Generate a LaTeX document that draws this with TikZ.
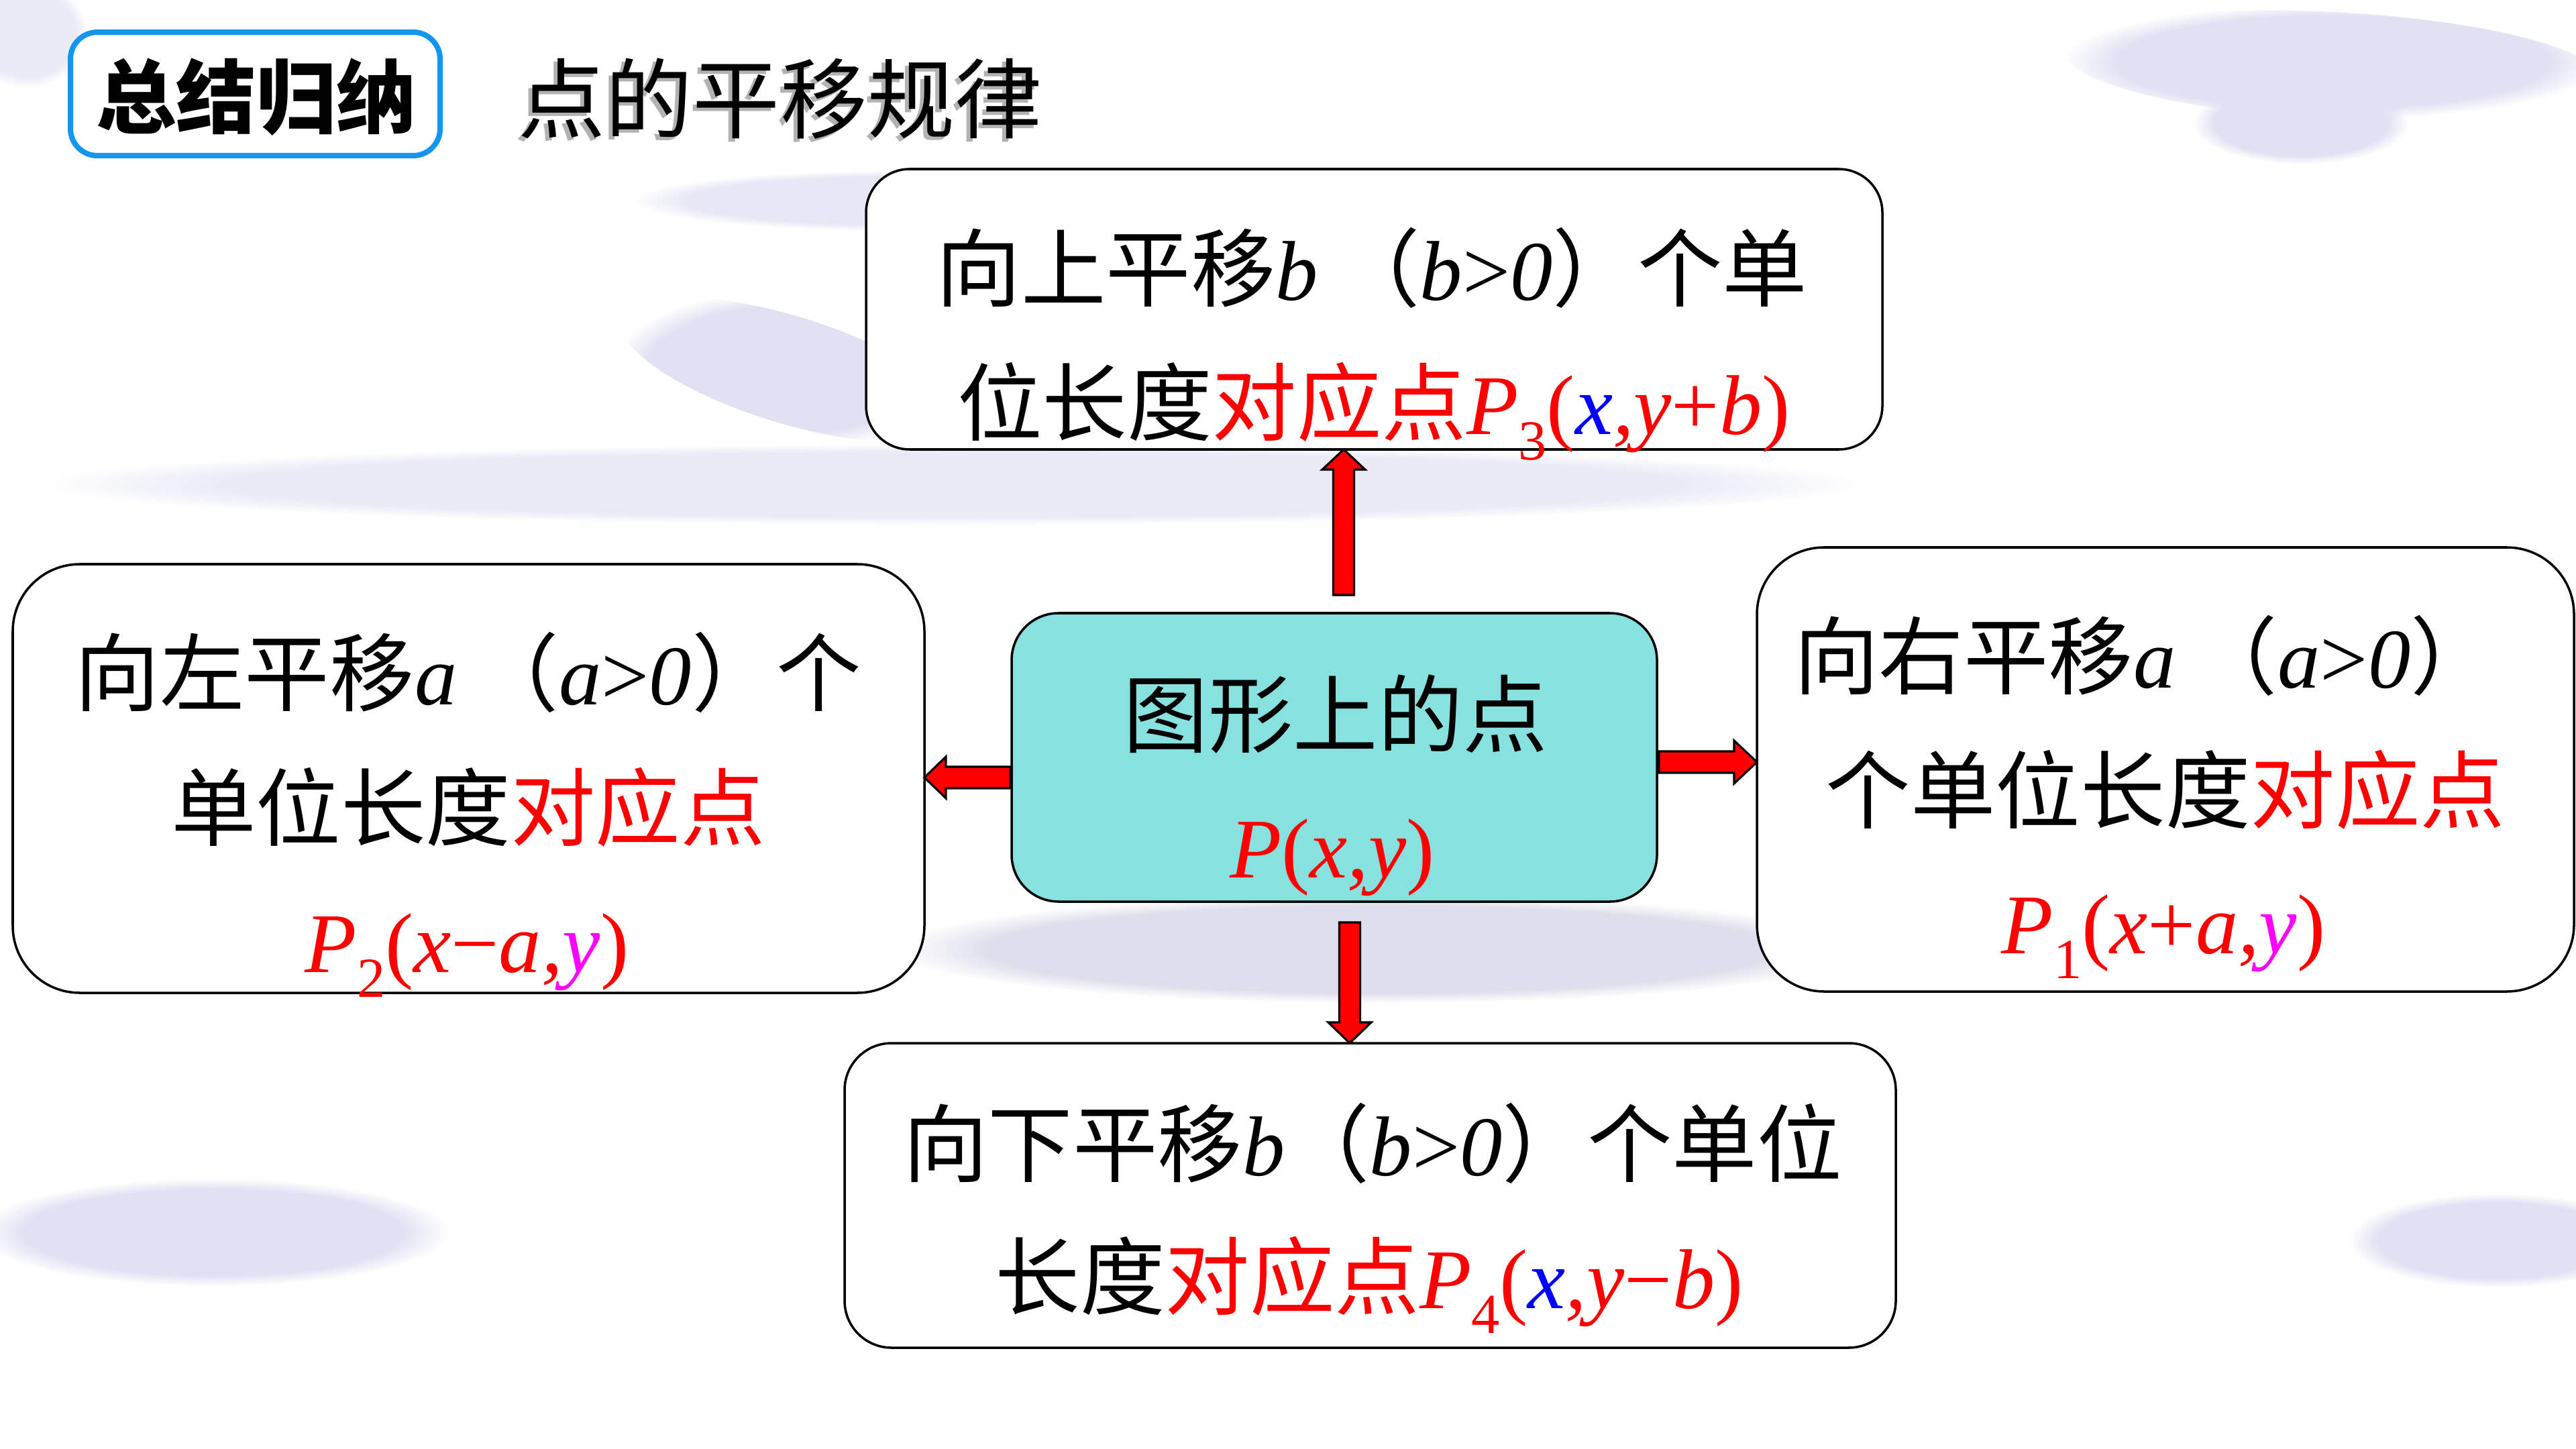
\documentclass[tikz,border=0pt]{standalone}
\usepackage{fontspec}
\setmainfont{Liberation Serif}
\newfontfamily\cjk{Noto Sans CJK SC}
\usetikzlibrary{calc,fadings}
\definecolor{cyanfill}{RGB}{134,225,223}
\definecolor{titleblue}{RGB}{20,150,240}
\definecolor{lav}{RGB}{224,226,243}
\definecolor{lavgray}{RGB}{222,222,236}
\definecolor{myred}{RGB}{255,0,0}
\definecolor{myblue}{RGB}{0,0,255}
\definecolor{mymag}{RGB}{255,0,255}
\newcommand\vi[1]{{\rmfamily\itshape #1}}
\newcommand\upr[1]{{\rmfamily #1}}
\newcommand\sbs[1]{\raisebox{-0.3em}{\rmfamily\fontsize{24}{24}\selectfont #1}}
\tikzset{
  box/.style={draw=black, line width=1pt, fill=white, inner sep=0pt, outer sep=0pt},
  txt/.style={anchor=base, inner sep=0pt, font=\cjk\fontsize{36}{40}\selectfont},
  barrow/.style={fill=myred, draw=black, line width=0.9pt, line join=miter},
  bg/.style={fill=lav, path fading=circle with fuzzy edge 20 percent}
}
\begin{document}
\begin{tikzpicture}[x=1cm,y=1cm]
\useasboundingbox (0,0) rectangle (38.4,-21.6);
\fill[white] (0,0) rectangle (38.4,-21.6);
% background strokes
\fill[bg, rotate around={-17:(11.75,-5.51)}] (11.75,-5.51) ellipse (2.6 and 0.8);
\fill[bg, fill=lav!70] (14.2,-7.22) ellipse (13.5 and 0.6);
\fill[bg, fill=lav!80] (13.47,-2.99) ellipse (4.0 and 0.45);
\fill[bg, rotate around={-3:(34.78,-0.98)}] (34.78,-0.98) ellipse (4.0 and 0.8);
\fill[bg] (34.3,-1.84) ellipse (1.6 and 0.6);
\fill[bg] (3.18,-18.37) ellipse (3.5 and 0.8);
\fill[bg] (37.22,-18.49) ellipse (2.2 and 0.7);
\fill[bg, fill=lavgray] (20.57,-14.15) ellipse (7.2 and 0.8);
\fill[bg, fill=lav!70] (0.4,-0.5) ellipse (0.9 and 0.8);

% title
\node[box, draw=titleblue, line width=0.08cm, rounded corners=0.4cm, minimum width=5.51cm, minimum height=1.84cm] (tbox) at (3.805,-1.40) {};
\node[txt, font=\cjk\bfseries\fontsize{34}{40}\selectfont] (ttext) at (3.82,-1.90) {总结归纳};
\node[txt, font=\cjk\fontsize{37}{40}\selectfont, text=gray!60] (titleshadow) at (11.57,-2.02) {点的平移规律};
\node[txt, font=\cjk\fontsize{37}{40}\selectfont] (title) at (11.63,-1.97) {点的平移规律};

% boxes
\node[box, rounded corners=0.65cm, minimum width=15.15cm, minimum height=4.18cm] (top) at (20.485,-4.61) {};
\node[box, rounded corners=1.0cm, minimum width=13.59cm, minimum height=6.39cm] (left) at (6.985,-11.605) {};
\node[box, rounded corners=1.0cm, minimum width=12.18cm, minimum height=6.62cm] (right) at (32.28,-11.47) {};
\node[box, rounded corners=0.7cm, minimum width=15.67cm, minimum height=4.54cm] (bot) at (20.425,-17.82) {};
\node[box, fill=cyanfill, rounded corners=0.7cm, minimum width=9.62cm, minimum height=4.30cm] (c) at (19.89,-11.29) {};

% texts
\node[txt] (t1) at (20.45,-4.48) {向上平移\vi{b}\hspace{0.2em}（\vi{b}\upr{>}\vi{0}）个单};
\node[txt] (t2) at (20.48,-6.48) {位长度\textcolor{myred}{对应点\vi{P}\sbs{3}\upr{(}\textcolor{myblue}{\vi{x}}\vi{,y}\upr{+}\vi{b}\upr{)}}};

\node[txt] (l1) at (6.98,-10.50) {向左平移\vi{a}\hspace{0.2em}（\vi{a}\upr{>}\vi{0}）个};
\node[txt] (l2) at (6.98,-12.51) {单位长度\textcolor{myred}{对应点}};
\node[txt] (l3) at (6.96,-14.49) {\textcolor{myred}{\vi{P}\sbs{2}\upr{(}\vi{x}\upr{−}\vi{a}\vi{,}\textcolor{mymag}{\vi{y}}\upr{)}}};

\node[txt] (r1) at (31.97,-10.25) {向右平移\vi{a}\hspace{0.2em}（\vi{a}\upr{>}\vi{0}）};
\node[txt] (r2) at (32.28,-12.25) {个单位长度\textcolor{myred}{对应点}};
\node[txt] (r3) at (32.25,-14.21) {\textcolor{myred}{\vi{P}\sbs{1}\upr{(}\vi{x}\upr{+}\vi{a}\vi{,}\textcolor{mymag}{\vi{y}}\upr{)}}};

\node[txt] (b1) at (20.46,-17.52) {向下平移\vi{b}（\vi{b}\upr{>}\vi{0}）个单位};
\node[txt] (b2) at (20.41,-19.50) {长度\textcolor{myred}{对应点\vi{P}\sbs{4}\upr{(}\textcolor{myblue}{\vi{x}}\vi{,y}\upr{−}\vi{b}\upr{)}}};

\node[txt] (c1) at (19.91,-11.12) {图形上的点};
\node[txt] (c2) at (19.86,-13.08) {\textcolor{myred}{\vi{P}\upr{(}\vi{x}\vi{,}\vi{y}\upr{)}}};

% arrows
% up
\coordinate (ua0) at ([shift={(0.14,0.27)}]c.north);
\coordinate (ua1) at (ua0 |- top.south);
\draw[barrow] ([xshift=-0.155cm]ua0) -- ([shift={(-0.155,-0.30)}]ua1) -- ([shift={(-0.32,-0.30)}]ua1) -- (ua1) -- ([shift={(0.32,-0.30)}]ua1) -- ([shift={(0.155,-0.30)}]ua1) -- ([xshift=0.155cm]ua0) -- cycle;
% down
\coordinate (da0) at ([shift={(0.23,-0.31)}]c.south);
\coordinate (da1) at (da0 |- bot.north);
\draw[barrow] ([xshift=-0.155cm]da0) -- ([shift={(-0.155,0.31)}]da1) -- ([shift={(-0.32,0.31)}]da1) -- (da1) -- ([shift={(0.32,0.31)}]da1) -- ([shift={(0.155,0.31)}]da1) -- ([xshift=0.155cm]da0) -- cycle;
% left
\coordinate (la0) at ([shift={(-0.02,-0.30)}]c.west);
\coordinate (la1) at (la0 -| left.east);
\draw[barrow] ([yshift=0.16cm]la0) -- ([shift={(0.32,0.16)}]la1) -- ([shift={(0.32,0.31)}]la1) -- (la1) -- ([shift={(0.32,-0.31)}]la1) -- ([shift={(0.32,-0.16)}]la1) -- ([yshift=-0.16cm]la0) -- cycle;
% right
\coordinate (ra0) at ([shift={(0.03,-0.07)}]c.east);
\coordinate (ra1) at (ra0 -| right.west);
\draw[barrow] ([yshift=0.16cm]ra0) -- ([shift={(-0.34,0.16)}]ra1) -- ([shift={(-0.34,0.32)}]ra1) -- (ra1) -- ([shift={(-0.34,-0.32)}]ra1) -- ([shift={(-0.34,-0.16)}]ra1) -- ([yshift=-0.16cm]ra0) -- cycle;
\end{tikzpicture}
\end{document}
